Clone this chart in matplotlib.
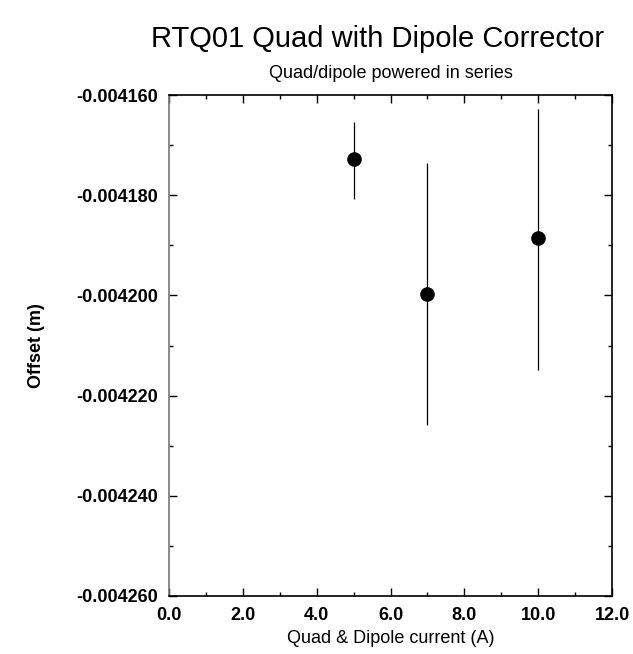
import matplotlib

matplotlib.use("Agg")
import matplotlib.pyplot as plt
from matplotlib.ticker import MultipleLocator, FormatStrFormatter

FONT = ["Liberation Sans Narrow", "Liberation Sans", "DejaVu Sans"]

# Offset measurements (m) vs. quad & dipole current (A)
current = [5.0, 7.0, 10.0]
offset = [-0.0041728, -0.0041997, -0.0041885]
err_low = [0.0000079, 0.0000262, 0.0000263]
err_high = [0.0000075, 0.0000261, 0.0000258]

TITLE = "RTQ01 Quad with Dipole Corrector"
SUBTITLE = "Quad/dipole powered in series"
XLABEL = "Quad & Dipole current (A)"
YLABEL = "Offset (m)"


def main() -> None:
    plt.rcParams["font.family"] = FONT

    fig = plt.figure(figsize=(6.33, 6.54), dpi=100)
    ax = fig.add_axes([0.267, 0.0887, 0.7, 0.766])

    ax.errorbar(
        current,
        offset,
        yerr=[err_low, err_high],
        fmt="o",
        color="black",
        markersize=9.5,
        elinewidth=0.9,
        capsize=0,
    )

    ax.set_xlim(0, 12)
    ax.set_ylim(-0.00426, -0.00416)
    ax.xaxis.set_major_locator(MultipleLocator(2))
    ax.xaxis.set_minor_locator(MultipleLocator(1))
    ax.yaxis.set_major_locator(MultipleLocator(0.00002))
    ax.yaxis.set_minor_locator(MultipleLocator(0.00001))
    ax.xaxis.set_major_formatter(FormatStrFormatter("%.1f"))
    ax.yaxis.set_major_formatter(FormatStrFormatter("%.6f"))

    ax.tick_params(which="both", direction="in", top=True, right=True, width=1)
    ax.tick_params(which="major", length=6, labelsize=13, pad=8)
    ax.tick_params(which="minor", length=3)
    for lbl in ax.get_xticklabels() + ax.get_yticklabels():
        lbl.set_fontweight("bold")
    for sp in ax.spines.values():
        sp.set_linewidth(1.2)
    ax.spines["left"].set_color("#777777")

    ax.set_xlabel(XLABEL, fontsize=13, labelpad=4)
    ax.set_ylabel(YLABEL, fontsize=13, fontweight="bold", labelpad=22)
    ax.set_title(SUBTITLE, fontsize=13, pad=12)
    fig.text(0.597, 0.940, TITLE, ha="center", va="center", fontsize=21)

    fig.savefig("out.png", dpi=100)
    plt.close(fig)


if __name__ == "__main__":
    main()
